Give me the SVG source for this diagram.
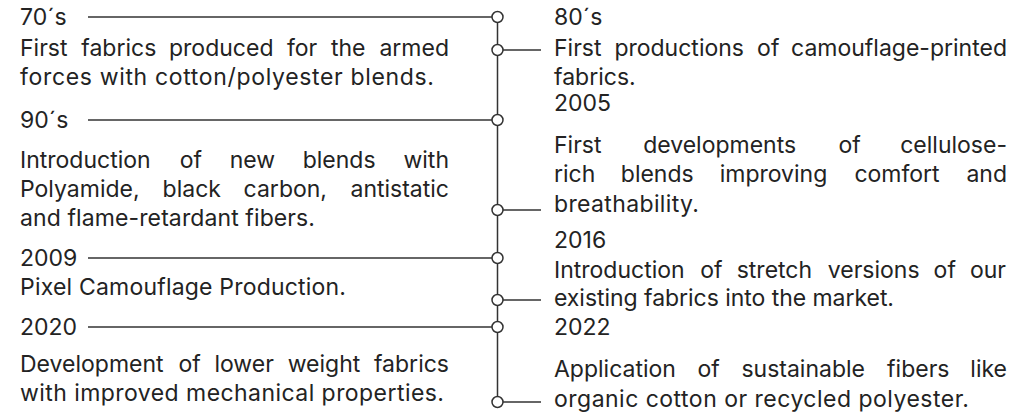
<svg xmlns="http://www.w3.org/2000/svg" width="1028" height="412" viewBox="0 0 1028 412">
<style>
  .t { font-family: Inter, "Liberation Sans", sans-serif; font-size: 23px; fill: #232323; }
  .e { text-anchor: end; }
  .ln { stroke: #333; stroke-width: 1.5; fill: none; }
  .dot { fill: #fff; stroke: #333; stroke-width: 1.5; }
</style>
<rect width="1028" height="412" fill="#fff"/>
<g id="connectors">
  <line class="ln" x1="497.5" y1="17" x2="497.5" y2="402"/>
  <line class="ln" x1="88" y1="17" x2="492" y2="17"/>
  <line class="ln" x1="88" y1="120" x2="492" y2="120"/>
  <line class="ln" x1="88" y1="258" x2="492" y2="258"/>
  <line class="ln" x1="88" y1="327" x2="492" y2="327"/>
  <line class="ln" x1="503" y1="50" x2="541" y2="50"/>
  <line class="ln" x1="503" y1="210" x2="541" y2="210"/>
  <line class="ln" x1="503" y1="300" x2="541" y2="300"/>
  <line class="ln" x1="503" y1="402" x2="541" y2="402"/>
  <circle class="dot" cx="497.5" cy="17" r="5.5"/>
  <circle class="dot" cx="497.5" cy="120" r="5.5"/>
  <circle class="dot" cx="497.5" cy="258" r="5.5"/>
  <circle class="dot" cx="497.5" cy="327" r="5.5"/>
  <circle class="dot" cx="497.5" cy="50" r="5.5"/>
  <circle class="dot" cx="497.5" cy="210" r="5.5"/>
  <circle class="dot" cx="497.5" cy="300" r="5.5"/>
  <circle class="dot" cx="497.5" cy="402" r="5.5"/>
</g>
<g id="n70s">
  <text class="t" x="20" y="25">70´s</text>
  <text class="t" y="56"><tspan x="20">First</tspan><tspan x="81.3">fabrics</tspan><tspan x="169">produced</tspan><tspan x="286.9">for</tspan><tspan x="331">the</tspan><tspan x="449" class="e">armed</tspan></text>
  <text class="t" x="20" y="85" textLength="414" lengthAdjust="spacing">forces with cotton/polyester blends.</text>
</g>
<g id="n90s">
  <text class="t" x="20" y="128">90´s</text>
  <text class="t" y="168"><tspan x="20">Introduction</tspan><tspan x="179.8">of</tspan><tspan x="229.7">new</tspan><tspan x="302.7">blends</tspan><tspan x="449" class="e">with</tspan></text>
  <text class="t" y="197"><tspan x="20">Polyamide,</tspan><tspan x="162.6">black</tspan><tspan x="243.6">carbon,</tspan><tspan x="449" class="e">antistatic</tspan></text>
  <text class="t" x="20" y="226" textLength="295" lengthAdjust="spacing">and flame-retardant fibers.</text>
</g>
<g id="n2009">
  <text class="t" x="20" y="266">2009</text>
  <text class="t" x="20" y="295" textLength="326" lengthAdjust="spacing">Pixel Camouflage Production.</text>
</g>
<g id="n2020">
  <text class="t" x="20" y="335">2020</text>
  <text class="t" y="372"><tspan x="20">Development</tspan><tspan x="178.4">of</tspan><tspan x="214.4">lower</tspan><tspan x="287.7">weight</tspan><tspan x="449" class="e">fabrics</tspan></text>
  <text class="t" x="20" y="401" textLength="424" lengthAdjust="spacing">with improved mechanical properties.</text>
</g>
<g id="n80s">
  <text class="t" x="554" y="25">80´s</text>
  <text class="t" y="56"><tspan x="554">First</tspan><tspan x="614.4">productions</tspan><tspan x="757.1">of</tspan><tspan x="1007" class="e">camouflage-printed</tspan></text>
  <text class="t" x="554" y="85">fabrics.</text>
</g>
<g id="n2005">
  <text class="t" x="554" y="111">2005</text>
  <text class="t" y="153"><tspan x="554">First</tspan><tspan x="643.2">developments</tspan><tspan x="838.5">of</tspan><tspan x="1007" class="e">cellulose-</tspan></text>
  <text class="t" y="182"><tspan x="554">rich</tspan><tspan x="620.8">blends</tspan><tspan x="719.7">improving</tspan><tspan x="854.4">comfort</tspan><tspan x="1007" class="e">and</tspan></text>
  <text class="t" x="554" y="212" textLength="145" lengthAdjust="spacing">breathability.</text>
</g>
<g id="n2016">
  <text class="t" x="554" y="248">2016</text>
  <text class="t" y="278"><tspan x="554">Introduction</tspan><tspan x="700.3">of</tspan><tspan x="736.7">stretch</tspan><tspan x="827.8">versions</tspan><tspan x="933.6">of</tspan><tspan x="1006" class="e">our</tspan></text>
  <text class="t" x="554" y="306" textLength="340" lengthAdjust="spacing">existing fabrics into the market.</text>
</g>
<g id="n2022">
  <text class="t" x="554" y="335">2022</text>
  <text class="t" y="377"><tspan x="554">Application</tspan><tspan x="697.5">of</tspan><tspan x="741.4">sustainable</tspan><tspan x="887.1">fibers</tspan><tspan x="1007" class="e">like</tspan></text>
  <text class="t" x="554" y="407" textLength="415" lengthAdjust="spacing">organic cotton or recycled polyester.</text>
</g>
</svg>
